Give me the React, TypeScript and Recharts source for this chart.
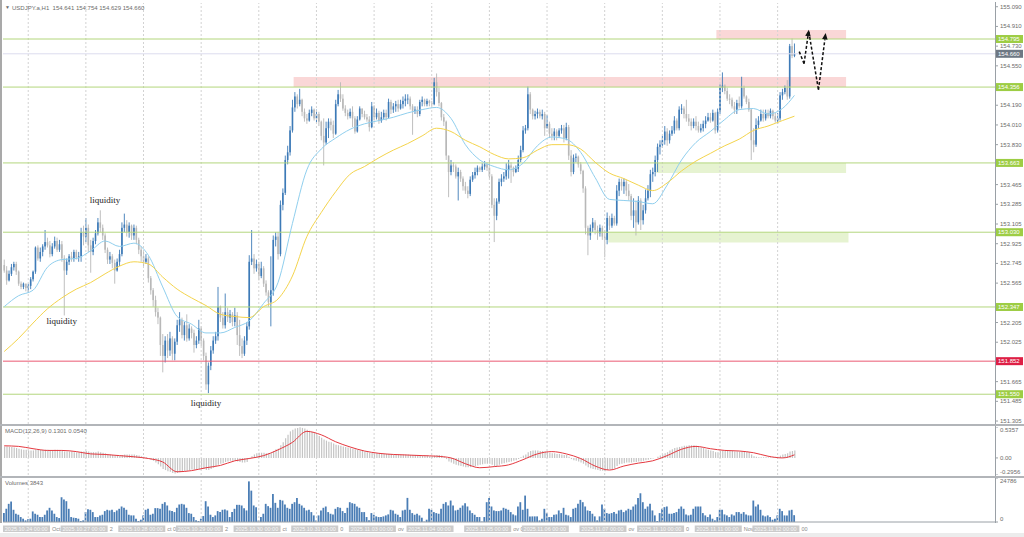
import React from "react";
import { ComposedChart, Bar, Line, XAxis, YAxis, ReferenceLine, ReferenceArea, ReferenceDot } from "recharts";

// USDJPY.a H1, one bar per hour from 2025.10.24 00:00 to 2025.11.12 17:00
const firstOpen = 152.73;
const closes = [
  152.68, 152.59, 152.65, 152.71, 152.74, 152.67, 152.56, 152.53, 152.56, 152.52, 152.54, 152.60, 152.67, 152.89, 152.79, 152.85, 152.90, 152.94, 152.91, 152.83, 152.90, 152.95, 152.87, 152.92,
  152.79, 152.68, 152.76, 152.81, 152.79, 152.85, 152.80, 152.81, 153.03, 152.99, 153.07, 152.91, 152.85, 152.95, 153.02, 153.12, 153.07, 153.00, 152.87, 152.78, 152.81, 152.75, 152.68, 152.76,
  152.83, 153.07, 153.10, 153.03, 153.09, 153.00, 153.07, 152.96, 152.87, 152.81, 152.76, 152.79, 152.61, 152.50, 152.41, 152.30, 152.25, 152.00, 151.90, 152.04, 151.95, 152.06, 151.92, 152.03,
  152.18, 152.23, 152.09, 152.18, 152.06, 152.15, 152.11, 152.00, 152.04, 152.15, 152.04, 151.90, 151.64, 151.81, 151.95, 152.04, 152.08, 152.35, 152.25, 152.18, 152.30, 152.25, 152.28, 152.21,
  152.27, 152.09, 151.99, 151.92, 152.04, 152.17, 152.76, 152.79, 152.70, 152.74, 152.63, 152.70, 152.56, 152.48, 152.39, 152.50, 152.96, 152.99, 152.83, 153.28, 153.39, 153.69, 153.76, 153.96,
  154.17, 154.27, 154.20, 154.24, 154.13, 154.07, 154.05, 154.12, 154.15, 154.07, 154.11, 154.04, 153.91, 153.85, 153.98, 154.04, 154.01, 153.93, 154.20, 154.29, 154.25, 154.16, 154.12, 154.09,
  154.13, 154.07, 153.95, 154.06, 154.16, 154.11, 154.08, 154.06, 153.99, 154.18, 154.08, 154.12, 154.05, 154.08, 154.12, 154.08, 154.22, 154.15, 154.18, 154.20, 154.16, 154.20, 154.23, 154.25,
  154.25, 154.18, 154.14, 154.15, 154.11, 154.22, 154.24, 154.20, 154.23, 154.21, 154.20, 154.40, 154.31, 154.21, 154.08, 154.04, 153.73, 153.58, 153.64, 153.63, 153.54, 153.58, 153.52, 153.45,
  153.41, 153.38, 153.51, 153.55, 153.58, 153.62, 153.60, 153.63, 153.65, 153.62, 153.54, 153.28, 153.18, 153.31, 153.49, 153.52, 153.54, 153.60, 153.64, 153.62, 153.58, 153.61, 153.69, 153.78,
  153.96, 153.98, 154.29, 154.15, 154.09, 154.11, 154.13, 154.09, 154.11, 153.98, 154.02, 153.93, 153.91, 153.95, 153.91, 153.96, 153.98, 153.89, 153.99, 153.73, 153.58, 153.71, 153.72, 153.65,
  153.59, 153.43, 153.07, 153.00, 153.07, 153.12, 153.05, 153.02, 153.07, 152.99, 152.96, 153.16, 153.09, 153.16, 153.11, 153.41, 153.49, 153.45, 153.49, 153.41, 153.36, 153.18, 153.23, 153.12,
  153.32, 153.14, 153.23, 153.34, 153.41, 153.56, 153.58, 153.69, 153.81, 153.83, 153.87, 153.95, 153.87, 153.93, 153.96, 154.05, 153.98, 154.15, 154.16, 154.11, 154.07, 154.04, 154.00, 154.04,
  154.00, 153.96, 153.98, 154.02, 154.05, 154.08, 154.05, 154.12, 153.96, 154.13, 154.35, 154.37, 154.32, 154.25, 154.24, 154.18, 154.15, 154.21, 154.18, 154.35, 154.27, 154.22, 154.15, 153.87,
  153.83, 154.01, 154.05, 154.11, 154.07, 154.12, 154.09, 154.14, 154.09, 154.05, 154.07, 154.28, 154.31, 154.35, 154.27, 154.73, 154.641, 154.66,
];
const highs = [
  152.78, 152.72, 152.68, 152.74, 152.76, 152.76, 152.68, 152.58, 152.57, 152.56, 152.56, 152.62, 152.68, 152.90, 152.91, 152.89, 152.92, 153.05, 152.98, 152.95, 152.93, 152.99, 152.98, 152.96,
  152.95, 152.82, 152.79, 152.83, 152.85, 152.87, 152.87, 152.85, 153.07, 153.09, 153.16, 153.10, 152.96, 152.98, 153.05, 153.16, 153.23, 153.10, 153.02, 152.89, 152.85, 152.83, 152.78, 152.79,
  152.87, 153.12, 153.20, 153.14, 153.12, 153.10, 153.10, 153.09, 152.98, 152.90, 152.85, 152.83, 152.81, 152.63, 152.52, 152.45, 152.34, 152.26, 152.10, 152.08, 152.10, 152.12, 152.08, 152.06,
  152.23, 152.30, 152.25, 152.21, 152.28, 152.19, 152.17, 152.14, 152.08, 152.23, 152.17, 152.06, 151.93, 151.84, 151.99, 152.08, 152.12, 152.53, 152.36, 152.30, 152.47, 152.34, 152.32, 152.30,
  152.34, 152.30, 152.23, 152.06, 152.08, 152.21, 152.82, 153.05, 152.83, 152.78, 152.76, 152.76, 152.72, 152.59, 152.50, 152.81, 153.00, 153.03, 153.03, 153.32, 153.43, 153.73, 153.82, 154.00,
  154.24, 154.31, 154.29, 154.34, 154.25, 154.16, 154.11, 154.15, 154.18, 154.16, 154.15, 154.13, 154.05, 154.07, 154.04, 154.07, 154.07, 154.05, 154.24, 154.33, 154.40, 154.29, 154.19, 154.15,
  154.16, 154.18, 154.09, 154.09, 154.18, 154.16, 154.14, 154.11, 154.09, 154.22, 154.19, 154.16, 154.14, 154.13, 154.15, 154.15, 154.25, 154.24, 154.21, 154.23, 154.24, 154.24, 154.27, 154.29,
  154.29, 154.27, 154.20, 154.18, 154.18, 154.24, 154.27, 154.25, 154.25, 154.24, 154.23, 154.44, 154.48, 154.35, 154.22, 154.11, 154.05, 153.73, 153.69, 153.67, 153.65, 153.62, 153.60, 153.54,
  153.49, 153.45, 153.54, 153.58, 153.62, 153.64, 153.63, 153.66, 153.68, 153.67, 153.69, 153.56, 153.34, 153.34, 153.52, 153.56, 153.58, 153.66, 153.69, 153.67, 153.63, 153.64, 153.73, 153.82,
  154.00, 154.01, 154.36, 154.31, 154.16, 154.14, 154.16, 154.15, 154.15, 154.13, 154.10, 154.04, 153.98, 153.98, 153.97, 153.98, 154.01, 154.01, 154.03, 154.01, 153.78, 153.74, 153.75, 153.73,
  153.67, 153.60, 153.45, 153.09, 153.10, 153.16, 153.14, 153.09, 153.10, 153.09, 153.05, 153.21, 153.18, 153.20, 153.18, 153.46, 153.52, 153.52, 153.52, 153.51, 153.47, 153.38, 153.34, 153.32,
  153.36, 153.34, 153.28, 153.42, 153.46, 153.60, 153.62, 153.73, 153.84, 153.87, 153.91, 154.00, 153.98, 153.96, 154.00, 154.09, 154.07, 154.18, 154.20, 154.18, 154.24, 154.11, 154.07, 154.07,
  154.09, 154.04, 154.02, 154.05, 154.09, 154.12, 154.12, 154.15, 154.13, 154.16, 154.38, 154.49, 154.38, 154.35, 154.29, 154.26, 154.22, 154.24, 154.27, 154.45, 154.37, 154.28, 154.25, 154.16,
  153.98, 154.07, 154.09, 154.15, 154.15, 154.15, 154.15, 154.16, 154.15, 154.12, 154.12, 154.31, 154.34, 154.37, 154.42, 154.75, 154.80, 154.754,
];
const lows = [
  152.66, 152.55, 152.58, 152.63, 152.68, 152.64, 152.54, 152.51, 152.51, 152.49, 152.48, 152.51, 152.58, 152.65, 152.77, 152.76, 152.81, 152.87, 152.89, 152.80, 152.81, 152.88, 152.85, 152.85,
  152.76, 152.27, 152.64, 152.73, 152.76, 152.76, 152.78, 152.76, 152.76, 152.91, 152.94, 152.85, 152.66, 152.82, 152.92, 153.00, 153.03, 152.96, 152.84, 152.74, 152.74, 152.70, 152.56, 152.67,
  152.72, 152.81, 153.03, 152.99, 152.98, 152.96, 152.96, 152.92, 152.83, 152.76, 152.72, 152.74, 152.57, 152.46, 152.35, 152.26, 152.19, 151.90, 151.75, 151.84, 151.88, 151.90, 151.86, 151.86,
  152.00, 152.12, 152.06, 152.04, 152.03, 152.04, 152.06, 151.93, 151.97, 152.01, 151.99, 151.86, 151.59, 151.56, 151.77, 151.92, 152.01, 152.04, 152.21, 152.15, 152.15, 152.21, 152.20, 152.17,
  152.17, 152.00, 151.90, 151.88, 151.90, 152.00, 152.14, 152.73, 152.65, 152.67, 152.59, 152.61, 152.53, 152.45, 152.35, 152.17, 152.45, 152.90, 152.78, 152.81, 153.23, 153.37, 153.65, 153.73,
  153.94, 154.13, 154.16, 154.18, 154.09, 154.04, 154.02, 154.04, 154.09, 154.05, 154.03, 154.00, 153.87, 153.64, 153.83, 153.89, 153.96, 153.89, 153.92, 154.18, 154.22, 154.14, 154.09, 154.06,
  154.07, 153.99, 153.93, 153.94, 154.05, 154.08, 154.06, 154.04, 153.95, 153.98, 154.05, 154.06, 154.02, 154.03, 154.06, 154.05, 154.07, 154.11, 154.12, 154.13, 154.13, 154.15, 154.16, 154.18,
  154.20, 154.15, 153.92, 154.11, 154.08, 154.09, 154.18, 154.18, 154.18, 154.18, 154.18, 154.19, 154.27, 154.18, 154.05, 154.00, 153.69, 153.35, 153.55, 153.58, 153.52, 153.32, 153.49, 153.41,
  153.38, 153.34, 153.36, 153.49, 153.52, 153.55, 153.58, 153.58, 153.60, 153.59, 153.52, 153.25, 152.94, 153.14, 153.29, 153.45, 153.49, 153.51, 153.52, 153.48, 153.54, 153.57, 153.58, 153.67,
  153.76, 153.93, 153.96, 154.11, 154.06, 154.06, 154.07, 154.07, 154.06, 153.91, 153.98, 153.89, 153.87, 153.87, 153.87, 153.89, 153.93, 153.85, 153.87, 153.69, 153.54, 153.56, 153.67, 153.62,
  153.56, 153.39, 153.01, 152.82, 152.96, 153.03, 153.01, 152.96, 152.99, 152.96, 152.80, 152.92, 153.05, 153.07, 153.09, 153.09, 153.36, 153.41, 153.38, 153.36, 153.32, 153.14, 153.07, 153.00,
  153.10, 153.05, 153.10, 153.20, 153.32, 153.35, 153.49, 153.54, 153.58, 153.74, 153.80, 153.83, 153.82, 153.84, 153.91, 153.93, 153.96, 153.96, 154.11, 154.07, 154.04, 154.00, 153.96, 153.98,
  153.96, 153.94, 153.94, 153.95, 153.98, 154.04, 154.03, 154.04, 153.93, 153.94, 154.11, 154.31, 154.29, 154.23, 154.20, 154.16, 154.11, 154.11, 154.16, 154.16, 154.25, 154.20, 154.13, 153.69,
  153.76, 153.81, 153.98, 154.04, 154.04, 154.05, 154.07, 154.07, 154.06, 154.03, 154.02, 154.05, 154.24, 154.29, 154.24, 154.25, 154.62, 154.629,
];
const volumes = [
  5020, 7440, 10230, 11530, 6880, 4650, 4090, 2790, 1860, 930, 1490, 1860, 5950, 4650, 4090, 2790, 2790, 4090, 6510, 8000, 6510, 4650, 2790, 2230,
  13950, 12650, 11720, 7440, 2790, 2420, 2230, 1860, 560, 930, 5580, 7250, 6880, 5580, 2790, 2790, 3720, 4090, 6140, 6880, 6510, 6880, 5580, 6510,
  7440, 8740, 8000, 6880, 4090, 3720, 3720, 1860, 560, 1300, 3720, 6880, 7440, 4090, 4650, 7810, 7810, 7440, 10230, 11160, 9300, 6510, 6140, 5580,
  8000, 9860, 10230, 9860, 8000, 5020, 4650, 2790, 930, 560, 1860, 3350, 11720, 8740, 4090, 2790, 3720, 6140, 5580, 6880, 7070, 6510, 2790, 5580,
  7440, 9670, 9670, 9300, 7810, 6510, 22880, 17670, 9300, 8370, 930, 2790, 4650, 10230, 8930, 8000, 15810, 10790, 8000, 12460, 12090, 9860, 8000, 7440,
  10230, 11160, 13580, 10230, 9300, 8000, 6510, 6880, 5580, 3720, 930, 3720, 6510, 8000, 8740, 5580, 4650, 4280, 7440, 8370,
  8000, 6140, 5020, 8000, 11160, 10600, 10230, 8740, 8000, 5580, 5580, 2790, 930, 5020, 4090, 3160, 2790, 2790, 3160, 3720,
  4280, 6880, 6510, 4650, 4090, 2790, 6510, 6880, 13580, 6880, 5020, 4090, 4650, 3720, 2420, 200, 1300, 7440, 6880, 5580,
  5020, 4650, 7440, 10230, 11160, 9300, 12090, 9300, 6510, 6880, 8000, 9300, 10600, 8740, 6510, 5020, 4090, 2790, 2790, 200,
  2790, 11160, 13580, 8740, 6510, 6140, 6140, 6510, 8000, 7440, 6880, 5580, 4280, 3720, 8740, 11160, 6880, 14880, 7440, 3160,
  3160, 3160, 3160, 930, 1860, 7440, 5020, 2790, 2790, 4090, 4280, 6510, 5020, 8000, 4090, 3720, 2790, 7440, 8000, 10230,
  12460, 11160, 8740, 6510, 6140, 4650, 3160, 930, 3160, 9860, 7440, 5020, 4650, 5020, 5580, 4650, 6510, 6880, 5580, 6510,
  7440, 6880, 8740, 9860, 13580, 16180, 11160, 7440, 8740, 10230, 6510, 3720, 560, 5020, 7440, 8370, 8740,
  4650, 4650, 5020, 5580, 7440, 8740, 7440, 4280, 3720, 4090, 7440, 8740, 8740, 8740, 5020, 3720, 2790, 4280, 1860, 930,
  2790, 6880, 6880, 4280, 3720, 2790, 4280, 3720, 5580, 5580, 4650, 5580, 4280, 3720, 3720, 12090, 8740, 9860, 6880, 3720,
  3160, 3720, 2790, 1300, 1860, 3720, 7440, 6140, 3720, 3720, 6510, 6880, 3843,
];
const macdHist = [
  0.20, 0.20, 0.19, 0.19, 0.18, 0.17, 0.16, 0.15, 0.14, 0.14, 0.13, 0.13, 0.13, 0.14, 0.14, 0.14,
  0.14, 0.14, 0.14, 0.13, 0.13, 0.14, 0.14, 0.13, 0.12, 0.11, 0.11, 0.11, 0.11, 0.10, 0.10, 0.10,
  0.11, 0.11, 0.12, 0.11, 0.10, 0.10, 0.10, 0.11, 0.10, 0.09, 0.08, 0.07, 0.06, 0.05, 0.04, 0.04,
  0.04, 0.05, 0.06, 0.06, 0.06, 0.06, 0.06, 0.05, 0.04, 0.03, 0.02, 0.01, -0.01, -0.03, -0.05, -0.08,
  -0.11, -0.15, -0.19, -0.21, -0.23, -0.24, -0.26, -0.27, -0.26, -0.25, -0.24, -0.23, -0.22, -0.21, -0.20, -0.20,
  -0.20, -0.19, -0.18, -0.19, -0.21, -0.21, -0.19, -0.17, -0.15, -0.12, -0.10, -0.09, -0.07, -0.06, -0.05, -0.05,
  -0.05, -0.06, -0.07, -0.08, -0.08, -0.07, -0.02, 0.03, 0.06, 0.08, 0.09, 0.09, 0.09, 0.08, 0.08, 0.08,
  0.12, 0.15, 0.16, 0.22, 0.27, 0.34, 0.40, 0.46, 0.49, 0.51, 0.52, 0.53, 0.52, 0.51, 0.49, 0.47,
  0.45, 0.43, 0.41, 0.38, 0.35, 0.32, 0.30, 0.28, 0.27, 0.25, 0.23, 0.22, 0.21, 0.20, 0.19, 0.18,
  0.17, 0.16, 0.15, 0.14, 0.13, 0.12, 0.11, 0.10, 0.09, 0.09, 0.08, 0.08, 0.08, 0.07, 0.07, 0.07,
  0.07, 0.07, 0.06, 0.06, 0.06, 0.06, 0.06, 0.06, 0.06, 0.05, 0.05, 0.05, 0.04, 0.04, 0.04, 0.04,
  0.04, 0.03, 0.03, 0.04, 0.05, 0.05, 0.04, 0.02, -0.02, -0.06, -0.08, -0.10, -0.12, -0.13, -0.14, -0.15,
  -0.16, -0.16, -0.16, -0.15, -0.14, -0.13, -0.12, -0.11, -0.10, -0.10, -0.10, -0.12, -0.14, -0.14, -0.12, -0.10,
  -0.09, -0.08, -0.07, -0.06, -0.05, -0.04, -0.02, 0.01, 0.04, 0.06, 0.10, 0.12, 0.13, 0.13, 0.13, 0.12,
  0.12, 0.11, 0.10, 0.09, 0.08, 0.08, 0.07, 0.07, 0.06, 0.05, 0.05, 0.02, -0.02, -0.04, -0.05, -0.06,
  -0.08, -0.10, -0.13, -0.16, -0.18, -0.19, -0.20, -0.21, -0.22, -0.22, -0.23, -0.21, -0.20, -0.19, -0.18, -0.14,
  -0.11, -0.10, -0.09, -0.08, -0.08, -0.08, -0.07, -0.07, -0.06, -0.06, -0.05, -0.04, -0.03, -0.02, -0.01, 0.00,
  0.02, 0.04, 0.06, 0.08, 0.10, 0.13, 0.15, 0.17, 0.18, 0.19, 0.20, 0.21, 0.21, 0.22, 0.22, 0.22,
  0.21, 0.20, 0.18, 0.17, 0.15, 0.14, 0.13, 0.12, 0.10, 0.10, 0.12, 0.13, 0.13, 0.13, 0.12, 0.12,
  0.11, 0.11, 0.11, 0.11, 0.12, 0.11, 0.10, 0.06, 0.03, 0.02, 0.01, 0.01, 0.01, 0.01, 0.01, 0.01,
  0.01, 0.02, 0.02, 0.04, 0.06, 0.07, 0.08, 0.11, 0.12, 0.1301,
];
// moving averages and MACD signal, read every 6 bars
const maIdx = [
  0, 6, 12, 18, 24, 30, 36, 42, 48, 54, 60, 66, 72, 78, 84, 90, 96, 102, 108, 114, 120, 126, 132, 138, 144, 150, 156, 162,
  168, 174, 180, 186, 192, 198, 204, 210, 216, 222, 228, 234, 240, 246, 252, 258, 264, 270, 276, 282, 288, 294, 300, 306, 312, 318, 324, 329,
];
const fastMa = [
  152.35, 152.45, 152.50, 152.71, 152.78, 152.79, 152.86, 152.95, 152.90, 152.93, 152.82, 152.53, 152.26, 152.19, 152.11, 152.11, 152.16, 152.22, 152.38, 152.57,
  153.11, 153.60, 153.79, 153.89, 153.97, 154.02, 154.05, 154.08, 154.12, 154.15, 154.17, 154.07, 153.83, 153.69, 153.63, 153.60, 153.66, 153.82, 153.90, 153.88,
  153.76, 153.53, 153.33, 153.32, 153.31, 153.29, 153.46, 153.69, 153.85, 153.95, 154.06, 154.15, 154.16, 154.11, 154.16, 154.28,
];
const slowMa = [
  151.94, 152.06, 152.20, 152.33, 152.43, 152.51, 152.57, 152.65, 152.72, 152.76, 152.74, 152.62, 152.51, 152.43, 152.36, 152.28, 152.26, 152.25, 152.35, 152.42,
  152.63, 152.99, 153.21, 153.40, 153.56, 153.63, 153.71, 153.78, 153.84, 153.91, 153.98, 153.95, 153.87, 153.81, 153.74, 153.70, 153.71, 153.78, 153.83, 153.83,
  153.79, 153.67, 153.57, 153.52, 153.46, 153.41, 153.48, 153.59, 153.68, 153.75, 153.82, 153.88, 153.96, 154.00, 154.05, 154.09,
];
const signalLine = [
  0.21, 0.20, 0.16, 0.13, 0.13, 0.11, 0.07, 0.06, 0.04, 0.02, -0.01, -0.07, -0.24, -0.22, -0.17, -0.13, -0.05, -0.01, 0.04, 0.14,
  0.27, 0.46, 0.40, 0.28, 0.19, 0.12, 0.08, 0.06, 0.05, 0.04, 0.03, 0.00, -0.10, -0.17, -0.15, -0.12, -0.03, 0.07, 0.11, 0.07,
  -0.01, -0.14, -0.21, -0.14, -0.09, -0.05, 0.04, 0.15, 0.20, 0.16, 0.13, 0.12, 0.09, 0.03, 0.00, 0.054,
];

const priceTicks = [155.09, 154.91, 154.73, 154.55, 154.19, 154.01, 153.83, 153.465, 153.285, 153.105, 152.925, 152.745, 152.565, 152.205, 152.025, 151.665, 151.485, 151.305];
const macdTicks = [0.5357, 0, -0.2956];
const volTicks = [24786, 0];
const greenLevels = [154.795, 154.356, 153.663, 153.03, 152.347, 151.55];
const redLevel = 151.852;
const lastPrice = 154.66;
// [from bar, to bar, top price, bottom price]
const pinkZones = [[297, 350, 154.877, 154.795], [121, 350, 154.447, 154.356]];
const greenZones = [[272, 350, 153.663, 153.57], [252, 351, 153.03, 152.935]];
const liquidityMarks = [[42, 153.32], [24, 152.22], [84, 151.47]];
// [x1, y1, x2, y2, arrowhead]
const scenario = [
  [331, 154.68, 333, 154.57, 0],
  [333, 154.57, 335, 154.88, 1],
  [335, 154.86, 339, 154.33, 0],
  [339, 154.33, 342, 154.85, 1],
];
const gridIdx = [10, 34, 58, 82, 106, 130, 154, 178, 202, 226, 250, 274, 298, 322];
const dayStarts = [0, 24, 48, 72, 96, 120, 144, 168, 192, 216, 240, 264, 288, 312];
const dayLabels = [
  "2025.10.24 00:00", "2025.10.27 00:00", "2025.10.28 00:00", "2025.10.29 00:00", "2025.10.30 00:00", "2025.10.31 00:00", "2025.11.03 00:00",
  "2025.11.04 00:00", "2025.11.05 00:00", "2025.11.06 00:00", "2025.11.07 00:00", "2025.11.10 00:00", "2025.11.11 00:00", "2025.11.12 00:00",
];
const dayTails = ["Oct", "2", "ct 0", "2", "ct", "0", "ov", "", "ov 0", "", "ov", "0", "Nov", "00"];

const SLOTS = 413; // bars plus the empty shift area on the right

const rows: any[] = Array.from({ length: SLOTS }, (_, i) => {
  const r: any = { i };
  if (i < closes.length) {
    r.open = i === 0 ? firstOpen : closes[i - 1];
    r.close = closes[i];
    r.high = highs[i];
    r.low = lows[i];
    r.range = [lows[i], highs[i]];
    r.vol = volumes[i];
    r.hist = macdHist[i];
  }
  return r;
});
maIdx.forEach((idx, k) => {
  rows[idx].fast = fastMa[k];
  rows[idx].slow = slowMa[k];
  rows[idx].signal = signalLine[k];
});

const BLUE = "#3d7ab7";
const GREY = "#b8b8b8";
const AXIS = "#9aa0a6";
const TXT = "#6c6c6c";
const FONT = "'Liberation Sans', Arial, sans-serif";
const GREEN_LINE = "#b3d67d";
const GREEN_TAG = "#9dcd44";

const Candle = (p: any) => {
  const d = p.payload;
  if (!d || d.open == null) return null;
  const top = Math.min(p.y, p.y + p.height);
  const h = Math.abs(p.height);
  const span = d.high - d.low;
  const k = span > 0 ? h / span : 0;
  const yO = top + (d.high - d.open) * k;
  const yC = top + (d.high - d.close) * k;
  const color = d.close >= d.open ? BLUE : GREY;
  const cx = p.x + p.width / 2;
  return (
    <g>
      <line x1={cx} x2={cx} y1={top} y2={top + h} stroke={color} strokeWidth={0.9} />
      <rect x={cx - 0.8} y={Math.min(yO, yC)} width={1.6} height={Math.max(Math.abs(yC - yO), 0.8)} fill={color} />
    </g>
  );
};

const PriceTick = (p: any) => (
  <text x={p.x} y={p.y} dy={2} fontSize={6} fill={TXT} fontFamily={FONT}>
    {Number(p.payload.value).toFixed(3)}
  </text>
);
const MacdTick = (p: any) => {
  const v = p.payload.value;
  const label = v === 0 ? "0.00" : String(v);
  const dy = v > 0 ? 5 : v < 0 ? -1 : 2;
  return <text x={p.x} y={p.y} dy={dy} fontSize={6} fill={TXT} fontFamily={FONT}>{label}</text>;
};
const VolTick = (p: any) => {
  const v = p.payload.value;
  return <text x={p.x} y={p.y} dy={v > 0 ? 5 : -1} fontSize={6} fill={TXT} fontFamily={FONT}>{String(v)}</text>;
};
const DateTick = (p: any) => {
  const k = dayStarts.indexOf(p.payload.value);
  const x = p.x - 1.2;
  const y = p.y;
  return (
    <g fontFamily={FONT} fontSize={5.5}>
      <text x={x + 49} y={y + 8.6} fill="#8a8a8a">{dayTails[k]}</text>
      <rect x={x} y={y + 3.5} width={47} height={6.5} fill="#cbcbcb" />
      <text x={x + 1.8} y={y + 8.6} fill="#f8f8f8">{dayLabels[k]}</text>
    </g>
  );
};

const priceTag = (text: string, bg: string) => (p: any) => {
  const vb = p.viewBox;
  const x = vb.x + vb.width + 1;
  return (
    <g>
      <rect x={x} y={vb.y - 4} width={27} height={8} fill={bg} />
      <text x={x + 2} y={vb.y + 2.2} fontSize={6} fill="#ffffff" fontFamily={FONT}>{text}</text>
    </g>
  );
};

const liqLabel = (p: any) => (
  <text
    x={p.viewBox.x + p.viewBox.width / 2}
    y={p.viewBox.y + p.viewBox.height / 2}
    textAnchor="middle"
    dominantBaseline="central"
    fontFamily="'Liberation Serif', 'Times New Roman', serif"
    fontSize={9}
    fill="#1b1b1b"
  >
    liquidity
  </text>
);

const arrow = (head: boolean) => (p: any) => {
  const { x1, y1, x2, y2 } = p;
  const a = Math.atan2(y2 - y1, x2 - x1);
  const len = 6.5;
  const w = 2.8;
  const bx = x2 - len * Math.cos(a);
  const by = y2 - len * Math.sin(a);
  const ex = head ? bx : x2;
  const ey = head ? by : y2;
  const pts = `${x2},${y2} ${bx + w * Math.sin(a)},${by - w * Math.cos(a)} ${bx - w * Math.sin(a)},${by + w * Math.cos(a)}`;
  return (
    <g>
      <line x1={x1} y1={y1} x2={ex} y2={ey} stroke="#111" strokeWidth={1.5} strokeDasharray="3 2" />
      {head && <polygon points={pts} fill="#111" />}
    </g>
  );
};

const gridLines = () =>
  gridIdx.map((g) => <ReferenceLine key={"g" + g} x={g} stroke="#d2d2d2" strokeDasharray="2 2" />);

const box = (left: number, top: number, width: number, height: number, bg: string) => (
  <div style={{ position: "absolute", left, top, width, height, background: bg }} />
);

const small: React.CSSProperties = { position: "absolute", fontFamily: FONT, fontSize: 6, color: TXT, lineHeight: 1, whiteSpace: "pre" };

export default function App() {
  return (
    <div style={{ position: "relative", width: 1024, height: 537, background: "#ffffff", overflow: "hidden" }}>
      <style>{"body{margin:0}"}</style>

      <div style={{ position: "absolute", left: 0, top: 0 }}>
        <ComposedChart width={1024} height={426} data={rows} margin={{ top: 3, right: 0, bottom: 2, left: 3 }}>
          <XAxis dataKey="i" hide />
          <YAxis
            orientation="right"
            width={29}
            domain={[151.278, 155.124]}
            allowDataOverflow
            ticks={priceTicks}
            interval={0}
            axisLine={false}
            tickLine={{ stroke: AXIS }}
            tickSize={3}
            tickMargin={2}
            tick={PriceTick}
          />
          {gridLines()}
          <ReferenceLine y={lastPrice} stroke="#dcdcee" label={priceTag("154.660", "#6e7884")} />
          {greenLevels.map((v) => (
            <ReferenceLine key={"l" + v} y={v} stroke={GREEN_LINE} label={priceTag(v.toFixed(3), GREEN_TAG)} />
          ))}
          <ReferenceLine y={redLevel} stroke="#ea5a72" label={priceTag(redLevel.toFixed(3), "#de1f45")} />
          {pinkZones.map((z, k) => (
            <ReferenceArea key={"p" + k} x1={z[0]} x2={z[1]} y1={z[3]} y2={z[2]} fill="#f07c7c" fillOpacity={0.3} stroke="none" />
          ))}
          {greenZones.map((z, k) => (
            <ReferenceArea key={"z" + k} x1={z[0]} x2={z[1]} y1={z[3]} y2={z[2]} fill="#a5d35a" fillOpacity={0.28} stroke="none" />
          ))}
          <Bar dataKey="range" shape={Candle} isAnimationActive={false} />
          <Line dataKey="fast" type="monotone" stroke="#90cfee" strokeWidth={1} dot={false} connectNulls isAnimationActive={false} />
          <Line dataKey="slow" type="monotone" stroke="#f4d44c" strokeWidth={1} dot={false} connectNulls isAnimationActive={false} />
          {liquidityMarks.map((m, k) => (
            <ReferenceDot key={"q" + k} x={m[0]} y={m[1]} r={0.1} fill="none" stroke="none" label={liqLabel} />
          ))}
          {scenario.map((s, k) => (
            <ReferenceLine
              key={"a" + k}
              segment={[{ x: s[0], y: s[1] }, { x: s[2], y: s[3] }]}
              shape={arrow(s[4] === 1)}
            />
          ))}
        </ComposedChart>
      </div>

      <div style={{ position: "absolute", left: 0, top: 427 }}>
        <ComposedChart width={1024} height={48} data={rows} margin={{ top: 0, right: 0, bottom: 0, left: 3 }}>
          <XAxis dataKey="i" hide />
          <YAxis
            orientation="right"
            width={29}
            domain={[-0.2956, 0.5357]}
            allowDataOverflow
            ticks={macdTicks}
            interval={0}
            axisLine={false}
            tickLine={{ stroke: AXIS }}
            tickSize={3}
            tickMargin={2}
            tick={MacdTick}
          />
          {gridLines()}
          <Bar dataKey="hist" fill="#c4c4c4" barSize={1.2} isAnimationActive={false} />
          <Line dataKey="signal" type="monotone" stroke="#e5383f" strokeWidth={1} dot={false} connectNulls isAnimationActive={false} />
        </ComposedChart>
      </div>

      <div style={{ position: "absolute", left: 0, top: 478 }}>
        <ComposedChart width={1024} height={59} data={rows} margin={{ top: 0, right: 0, bottom: 0, left: 3 }}>
          <XAxis
            dataKey="i"
            height={15}
            ticks={dayStarts}
            interval={0}
            axisLine={{ stroke: AXIS }}
            tickLine={false}
            tickSize={0}
            tickMargin={0}
            tick={DateTick}
          />
          <YAxis
            orientation="right"
            width={29}
            domain={[0, 24786]}
            allowDataOverflow
            ticks={volTicks}
            interval={0}
            axisLine={false}
            tickLine={{ stroke: AXIS }}
            tickSize={3}
            tickMargin={2}
            tick={VolTick}
          />
          {gridLines()}
          <Bar dataKey="vol" fill="#4a7db5" barSize={1.8} isAnimationActive={false} />
        </ComposedChart>
      </div>

      {box(0, 0, 2, 523, "#a9a9a9")}
      {box(995, 2, 1, 521, AXIS)}
      {box(0, 424, 1024, 2, "#b2b5b9")}
      {box(0, 476, 1024, 2, "#b2b5b9")}
      {box(0, 533, 1024, 4, "#ececec")}

      <div style={{ ...small, left: 5, top: 5, fontSize: 5 }}>▼</div>
      <div style={{ ...small, left: 12, top: 5 }}>{"USDJPY.a,H1  154.641 154.754 154.629 154.660"}</div>
      <div style={{ ...small, left: 5, top: 428 }}>{"MACD(12,26,9) 0.1301 0.0540"}</div>
      <div style={{ ...small, left: 5, top: 480 }}>{"Volumes 3843"}</div>
    </div>
  );
}
